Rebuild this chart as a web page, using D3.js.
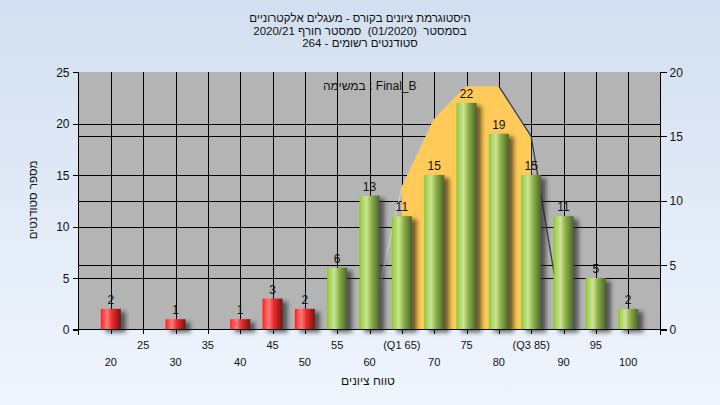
<!DOCTYPE html>
<html><head><meta charset="utf-8">
<script src="https://cdn.jsdelivr.net/npm/d3@7"></script>
<style>body{margin:0;background:#fff;} svg{display:block;font-family:"Liberation Sans",Arial,sans-serif;}</style>
</head><body>
<svg id="c" width="720" height="405"></svg>
<script>
// ---- data ----
const grades = [20,25,30,35,40,45,50,55,60,65,70,75,80,85,90,95,100];
const counts = [2,0,1,0,1,3,2,6,13,11,15,22,19,15,11,5,2];
const xTickLabels = ["20","25","30","35","40","45","50","55","60","(Q1 65)","70","75","80","(Q3 85)","90","95","100"];
const passMark = 55;
const q1 = 65, q3 = 85;
const curveGrades = [60,65,70,75,80,85,90];
const curveValues = [0,11,16.3,18.9,18.9,15,0];
const leftTicks = [0,5,10,15,20,25];
const rightTicks = [0,5,10,15,20];
const titleLines = ["היסטוגרמת ציונים בקורס - מעגלים אלקטרוניים",
                    "בסמסטר  (01/2020)  סמסטר חורף 2020/21",
                    "סטודנטים רשומים - 264"];
const legendText = "במשימה : Final_B";
const yTitle = "מספר סטודנטים";
const xTitle = "טווח ציונים";

// ---- layout ----
const W = 720, H = 405;
const L = 78.5, R = 660.5, T = 72, B = 329.5;
const svg = d3.select("#c");
const defs = svg.append("defs");

const bg = defs.append("linearGradient").attr("id","bg").attr("x1",0).attr("y1",0).attr("x2",0).attr("y2",1);
bg.append("stop").attr("offset","0%").attr("stop-color","#d3dff0");
bg.append("stop").attr("offset","100%").attr("stop-color","#eff5fd");

function barGrad(id, stops){
  const g = defs.append("linearGradient").attr("id",id).attr("x1",0).attr("y1",0).attr("x2",1).attr("y2",0);
  stops.forEach(s=>g.append("stop").attr("offset",s[0]).attr("stop-color",s[1]));
}
barGrad("red",[["0%","#e82828"],["12%","#ff4545"],["32%","#ff7a7a"],["55%","#e83030"],["100%","#8a0c0c"]]);
barGrad("green",[["0%","#94c042"],["12%","#a8d25a"],["35%","#cce592"],["60%","#8cb04a"],["100%","#4a6626"]]);

const blur = defs.append("filter").attr("id","sh").attr("x","-50%").attr("y","-50%").attr("width","200%").attr("height","200%");
blur.append("feGaussianBlur").attr("stdDeviation",2);

svg.append("rect").attr("width",W).attr("height",H).attr("fill","url(#bg)");

// scales
const x = d3.scaleLinear().domain([15,105]).range([L,R]);
const yL = d3.scaleLinear().domain([0,25]).range([B,T]);
const yR = d3.scaleLinear().domain([0,20]).range([B,T]);

// plot background
svg.append("rect").attr("x",L).attr("y",T).attr("width",R-L).attr("height",B-T).attr("fill","#b4b4b4");

// gridlines
const grid = svg.append("g").attr("stroke","#000").attr("stroke-width",1).attr("shape-rendering","crispEdges");
grades.forEach(g=>grid.append("line").attr("x1",Math.round(x(g))+0.5).attr("x2",Math.round(x(g))+0.5).attr("y1",T).attr("y2",B));
leftTicks.filter(t=>t>0&&t<25).forEach(t=>grid.append("line").attr("x1",L).attr("x2",R).attr("y1",Math.round(yL(t))+0.5).attr("y2",Math.round(yL(t))+0.5));
rightTicks.filter(t=>t>0&&t<20).forEach(t=>grid.append("line").attr("x1",L).attr("x2",R).attr("y1",Math.round(yR(t))+0.5).attr("y2",Math.round(yR(t))+0.5));

// curve
const pts = curveGrades.map((g,i)=>[g,curveValues[i]]);
for(let i=0;i<pts.length-1;i++){
  const a=pts[i], b=pts[i+1];
  if(b[1]>a[1]) svg.append("line").attr("x1",x(a[0])).attr("y1",yR(a[1])).attr("x2",x(b[0])).attr("y2",yR(b[1]))
     .attr("stroke","#cfcfcf").attr("stroke-width",1.2);
}
const inner = pts.filter(p=>p[0]>=q1 && p[0]<=q3);
const area = d3.area().x(p=>x(p[0])).y0(yR(0)).y1(p=>yR(p[1]));
svg.append("path").datum(inner).attr("d",area).attr("fill","#ffca58");
for(let i=0;i<pts.length-1;i++){
  const a=pts[i], b=pts[i+1];
  if(b[1]<a[1]) svg.append("line").attr("x1",x(a[0])).attr("y1",yR(a[1])).attr("x2",x(b[0])).attr("y2",yR(b[1]))
     .attr("stroke","#3c3c3c").attr("stroke-width",1.3);
}

// bars
const bw = 20;
const data = grades.map((g,i)=>({g, v:counts[i]})).filter(d=>d.v>0);
svg.append("g").selectAll("rect").data(data).join("rect")
  .attr("x",d=>x(d.g)-bw/2+5).attr("y",d=>yL(d.v)+3).attr("width",bw).attr("height",d=>B-yL(d.v))
  .attr("fill","#202020").attr("opacity",0.65).attr("filter","url(#sh)");
svg.append("g").selectAll("rect").data(data).join("rect")
  .attr("x",d=>x(d.g)-bw/2).attr("y",d=>yL(d.v)).attr("width",bw).attr("height",d=>B-yL(d.v))
  .attr("fill",d=>d.g<passMark?"url(#red)":"url(#green)");
svg.append("g").selectAll("text").data(data).join("text")
  .attr("x",d=>x(d.g)).attr("y",d=>yL(d.v)-5).attr("text-anchor","middle")
  .attr("font-size",12).attr("fill","#111").text(d=>d.v);

// axes
const ax = svg.append("g").attr("stroke","#000").attr("stroke-width",1).attr("shape-rendering","crispEdges");
ax.append("line").attr("x1",L).attr("x2",L).attr("y1",T).attr("y2",B+5);
ax.append("line").attr("x1",R).attr("x2",R).attr("y1",T).attr("y2",B+5);
ax.append("line").attr("x1",L-6).attr("x2",R+6).attr("y1",B).attr("y2",B);
leftTicks.forEach(t=>ax.append("line").attr("x1",L-6).attr("x2",L).attr("y1",Math.round(yL(t))+0.5).attr("y2",Math.round(yL(t))+0.5));
rightTicks.forEach(t=>ax.append("line").attr("x1",R).attr("x2",R+6).attr("y1",Math.round(yR(t))+0.5).attr("y2",Math.round(yR(t))+0.5));
grades.forEach(g=>ax.append("line").attr("x1",Math.round(x(g))+0.5).attr("x2",Math.round(x(g))+0.5).attr("y1",B).attr("y2",B+4));

const lab = svg.append("g").attr("font-size",12).attr("fill","#111");
leftTicks.forEach(t=>lab.append("text").attr("x",L-9).attr("y",yL(t)+4.5).attr("text-anchor","end").text(t));
rightTicks.forEach(t=>lab.append("text").attr("x",R+9).attr("y",yR(t)+4.5).attr("text-anchor","start").text(t));
grades.forEach((g,i)=>lab.append("text").attr("x",x(g)).attr("y",i%2===0?366:349).attr("font-size",11)
  .attr("text-anchor","middle").text(xTickLabels[i]));

// titles
const tt = svg.append("g").attr("font-size",11.5).attr("fill","#111");
titleLines.forEach((s,i)=>tt.append("text").attr("x",360).attr("y",22+i*12.5).attr("direction","rtl")
  .attr("xml:space","preserve").style("white-space","pre")
  .attr("text-anchor","middle").text(s));
svg.append("text").attr("x",323).attr("y",90).attr("font-size",12).attr("fill","#111").attr("direction","ltr").text(legendText);
svg.append("text").attr("transform","translate(37,200) rotate(-90)").attr("font-size",11.5).attr("fill","#111")
  .attr("direction","rtl").attr("text-anchor","middle").text(yTitle);
svg.append("text").attr("x",368).attr("y",385).attr("font-size",12).attr("fill","#111")
  .attr("direction","rtl").attr("text-anchor","middle").text(xTitle);
</script>
</body></html>
